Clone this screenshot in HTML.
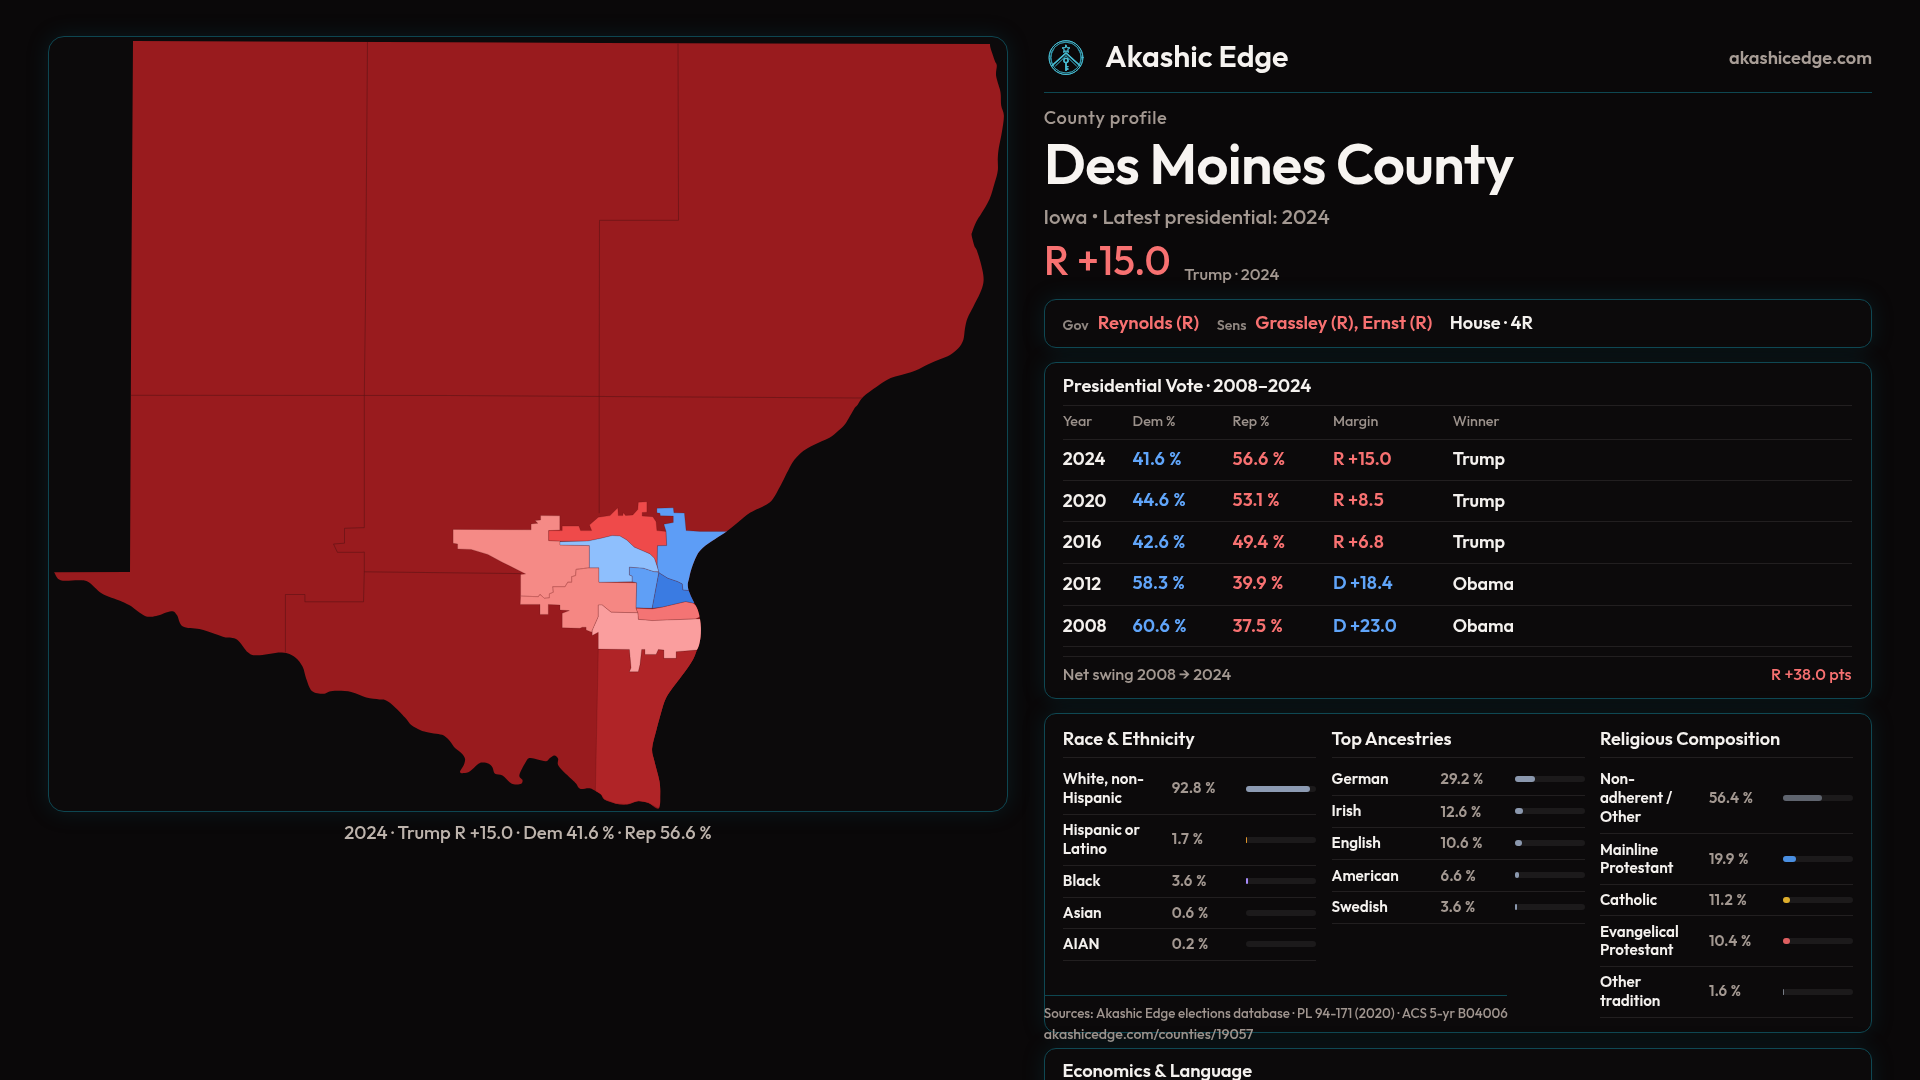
<!DOCTYPE html>
<html lang="en"><head><meta charset="utf-8"><title>Des Moines County — Akashic Edge</title>
<style>
html,body{margin:0;padding:0}
body{width:1920px;height:1080px;overflow:hidden;background:#0a0809;font-family:"Outfit","Liberation Sans",sans-serif;position:relative}
body>*{position:absolute}
section,aside,header,footer,div,svg{position:absolute}
.t{position:absolute;white-space:nowrap;line-height:1;margin:0;padding:0;text-decoration:none}
h1,h2,h3,p{margin:0;font-weight:inherit}
.r{position:absolute}
</style></head><body>
<section class="map-panel" style="left:48px;top:36px;width:960px;height:776px;box-sizing:border-box;border:1px solid #0e4651;border-radius:16px;background:#0c0a0b;box-shadow:0 0 22px rgba(14,90,105,0.22);">
<svg class="map" style="position:absolute;left:0;top:0" width="958" height="774" viewBox="49 37 958 774" role="img" aria-label="Des Moines County precinct map, 2024 presidential margin">
<defs><clipPath id="cty"><path d="M133,41 L600,43 L990,44 C990.1,44.7 989.8,45.5 990.6,48.3 C991.4,51.1 993.7,57.7 994.7,60.6 C995.7,63.5 996.6,63.1 996.8,65.6 C997.0,68.1 995.6,71.9 996.1,75.8 C996.6,79.7 999.0,85.9 999.8,89.1 C1000.6,92.3 1000.6,92.5 1000.8,95.2 C1001.0,97.9 1000.7,102.0 1001.2,105.4 C1001.7,108.8 1003.8,111.2 1003.9,115.6 C1004.0,120.0 1002.8,126.5 1001.9,131.9 C1001.0,137.3 999.5,143.7 998.8,148.1 C998.1,152.5 998.0,154.6 997.8,158.3 C997.6,162.1 998.3,166.5 997.8,170.6 C997.3,174.7 996.1,178.1 994.7,182.8 C993.3,187.6 991.8,194.0 989.6,199.1 C987.4,204.2 983.7,209.6 981.5,213.3 C979.3,217.0 977.9,218.4 976.4,221.5 C974.9,224.6 973.1,229.3 972.3,231.7 C971.5,234.1 971.4,233.3 971.7,235.7 C972.1,238.1 973.6,243.5 974.4,245.9 C975.2,248.3 975.6,247.1 976.7,250.0 C977.8,252.9 979.7,259.1 980.8,263.3 C981.9,267.5 982.9,271.7 983.3,275.0 C983.7,278.3 983.8,280.2 983.3,283.3 C982.8,286.4 981.7,289.4 980.0,293.3 C978.3,297.2 975.4,302.5 973.3,306.7 C971.2,310.9 968.9,314.7 967.5,318.3 C966.1,321.9 965.7,324.7 965.0,328.3 C964.3,331.9 964.4,336.7 963.3,340.0 C962.2,343.3 960.5,345.8 958.3,348.3 C956.1,350.8 953.0,353.2 950.0,355.0 C947.0,356.8 943.6,357.7 940.0,359.2 C936.4,360.7 932.5,362.3 928.3,364.2 C924.1,366.1 920.0,368.9 915.0,370.8 C910.0,372.7 902.8,374.4 898.3,375.8 C893.8,377.2 891.9,377.4 888.3,379.2 C884.7,381.0 880.9,383.8 876.7,386.7 C872.5,389.6 866.5,393.6 863.3,396.7 C860.1,399.8 859.0,403.0 857.5,405.0 C856.0,407.0 856.2,405.7 854.2,408.8 C852.2,411.9 848.0,420.1 845.4,423.8 C842.8,427.5 840.9,428.5 838.3,430.8 C835.6,433.1 833.6,435.5 829.5,437.8 C825.4,440.1 818.1,442.7 813.7,444.9 C809.3,447.1 806.4,448.5 803.2,451.0 C800.0,453.5 796.9,456.6 794.4,459.8 C791.9,463.0 790.3,466.6 788.2,470.4 C786.1,474.2 784.5,478.0 782.0,482.7 C779.5,487.4 775.8,494.8 773.2,498.5 C770.6,502.2 770.0,502.3 766.2,504.7 C762.4,507.1 755.1,509.7 750.4,512.6 C745.7,515.5 742.1,519.1 738.1,522.3 C734.1,525.5 730.4,528.8 726.6,531.6 C722.8,534.4 719.2,536.3 715.2,539.0 C711.2,541.7 706.0,545.0 702.9,547.8 C699.8,550.6 698.6,552.2 696.7,555.7 C694.8,559.2 692.7,564.9 691.4,568.9 C690.1,572.9 689.4,576.9 688.8,579.5 C688.2,582.1 687.8,582.5 687.8,584.4 C687.8,586.3 688.0,588.3 688.9,591.1 C689.8,593.9 691.8,598.0 693.3,601.1 C694.8,604.2 696.7,607.0 697.8,610.0 C698.9,613.0 699.5,615.9 700.0,618.9 C700.5,621.9 700.8,624.8 700.9,627.8 C701.0,630.8 700.9,633.7 700.6,636.7 C700.3,639.7 699.6,643.0 698.9,645.6 C698.1,648.2 697.0,650.0 696.1,652.2 C695.2,654.4 694.7,656.3 693.3,658.9 C691.9,661.5 689.8,664.8 687.8,667.8 C685.8,670.8 683.3,673.7 681.1,676.7 C678.9,679.7 676.9,682.0 674.4,685.6 C671.9,689.2 668.1,693.8 665.9,698.3 C663.7,702.8 662.6,707.5 661.0,712.9 C659.4,718.3 657.7,724.8 656.2,730.7 C654.7,736.7 652.4,743.5 652.1,748.6 C651.8,753.7 653.3,756.1 654.5,761.5 C655.7,766.9 658.4,775.3 659.4,781.0 C660.4,786.7 660.3,791.0 660.2,795.6 C660.1,800.2 660.6,807.3 658.6,808.5 C656.6,809.7 651.5,804.1 648.1,802.9 C644.7,801.7 641.8,800.9 638.3,801.2 C634.8,801.5 630.8,804.1 627.0,804.5 C623.2,804.9 619.5,804.5 615.7,803.7 C611.9,802.9 606.7,801.1 604.3,799.6 C601.9,798.1 602.5,796.1 601.1,794.8 C599.8,793.4 598.1,792.6 596.2,791.5 C594.3,790.4 592.4,788.8 589.7,788.3 C587.0,787.8 582.2,789.5 580.0,788.8 C577.8,788.0 577.5,785.2 576.2,783.8 C575.0,782.3 575.4,782.9 572.5,780.0 C569.6,777.1 561.1,769.8 558.8,766.2 C556.4,762.7 558.8,760.5 558.1,758.8 C557.4,757.0 555.8,755.7 554.4,755.6 C553.0,755.5 551.4,757.2 550.0,758.1 C548.6,759.0 548.3,761.0 546.2,761.2 C544.2,761.5 540.2,759.9 537.5,759.4 C534.8,758.9 531.9,757.8 530.0,758.1 C528.1,758.4 528.0,758.4 526.2,761.2 C524.5,764.1 520.0,771.9 519.4,775.0 C518.8,778.1 522.2,778.5 522.5,780.0 C522.8,781.5 522.5,783.0 521.2,783.8 C520.0,784.5 516.9,784.6 515.0,784.4 C513.1,784.2 512.1,784.0 510.0,782.5 C507.9,781.0 505.0,777.1 502.5,775.6 C500.0,774.1 496.7,775.1 495.0,773.8 C493.3,772.4 493.5,769.2 492.5,767.5 C491.5,765.8 490.4,764.6 488.8,763.8 C487.1,762.9 484.4,762.4 482.5,762.5 C480.6,762.6 479.6,762.9 477.5,764.4 C475.4,765.9 472.3,769.8 470.0,771.2 C467.7,772.7 465.4,773.0 463.8,773.1 C462.1,773.2 460.0,773.2 460.0,771.9 C460.0,770.5 462.9,767.2 463.8,765.0 C464.6,762.8 465.4,760.7 465.0,758.8 C464.6,756.8 462.9,754.9 461.2,753.1 C459.6,751.3 456.9,750.1 455.0,748.1 C453.1,746.1 451.9,743.3 450.0,741.2 C448.1,739.2 446.0,736.9 443.8,735.6 C441.5,734.4 439.2,734.4 436.2,733.8 C433.3,733.1 429.0,732.5 426.2,731.9 C423.5,731.3 422.5,731.1 420.0,730.0 C417.5,728.9 413.8,727.1 411.2,725.0 C408.8,722.9 408.1,720.8 405.0,717.5 C401.9,714.2 395.8,707.9 392.5,705.0 C389.2,702.1 387.2,700.9 385.0,700.0 C382.8,699.1 382.5,699.8 379.4,699.4 C376.3,699.0 370.9,698.8 366.2,697.5 C361.6,696.2 356.9,693.0 351.2,691.9 C345.6,690.8 337.2,690.7 332.5,691.0 C327.8,691.3 326.5,693.8 323.1,693.8 C319.7,693.8 314.7,693.5 311.9,691.0 C309.1,688.5 307.8,682.8 306.2,678.8 C304.7,674.7 304.4,670.2 302.5,666.6 C300.6,663.0 298.4,659.6 295.0,657.2 C291.6,654.9 288.1,652.8 281.9,652.5 C275.6,652.2 263.1,655.3 257.5,655.3 C251.9,655.3 251.5,655.1 248.1,652.5 C244.7,649.9 240.7,641.9 236.9,639.4 C233.2,636.9 229.3,638.4 225.6,637.5 C221.8,636.6 218.8,635.1 214.4,633.8 C210.0,632.4 204.7,630.4 199.4,629.1 C194.1,627.9 186.2,628.6 182.5,626.2 C178.8,623.9 178.8,617.5 176.9,615.0 C175.0,612.5 174.7,611.1 171.2,611.2 C167.8,611.4 160.6,615.1 156.2,615.9 C151.9,616.7 149.4,617.6 145.0,615.9 C140.6,614.2 134.1,608.1 130.0,605.6 C125.9,603.1 125.3,602.9 120.6,600.9 C115.9,598.9 107.2,596.5 101.9,593.4 C96.6,590.3 92.5,584.4 88.8,582.2 C85.0,580.0 84.1,580.6 79.4,580.3 C74.7,580.0 64.8,581.6 60.6,580.3 C56.4,579.0 55.2,573.6 54.1,572.3 L130,571.9 L131.25,300 Z"/></clipPath></defs>
<path d="M133,41 L600,43 L990,44 C990.1,44.7 989.8,45.5 990.6,48.3 C991.4,51.1 993.7,57.7 994.7,60.6 C995.7,63.5 996.6,63.1 996.8,65.6 C997.0,68.1 995.6,71.9 996.1,75.8 C996.6,79.7 999.0,85.9 999.8,89.1 C1000.6,92.3 1000.6,92.5 1000.8,95.2 C1001.0,97.9 1000.7,102.0 1001.2,105.4 C1001.7,108.8 1003.8,111.2 1003.9,115.6 C1004.0,120.0 1002.8,126.5 1001.9,131.9 C1001.0,137.3 999.5,143.7 998.8,148.1 C998.1,152.5 998.0,154.6 997.8,158.3 C997.6,162.1 998.3,166.5 997.8,170.6 C997.3,174.7 996.1,178.1 994.7,182.8 C993.3,187.6 991.8,194.0 989.6,199.1 C987.4,204.2 983.7,209.6 981.5,213.3 C979.3,217.0 977.9,218.4 976.4,221.5 C974.9,224.6 973.1,229.3 972.3,231.7 C971.5,234.1 971.4,233.3 971.7,235.7 C972.1,238.1 973.6,243.5 974.4,245.9 C975.2,248.3 975.6,247.1 976.7,250.0 C977.8,252.9 979.7,259.1 980.8,263.3 C981.9,267.5 982.9,271.7 983.3,275.0 C983.7,278.3 983.8,280.2 983.3,283.3 C982.8,286.4 981.7,289.4 980.0,293.3 C978.3,297.2 975.4,302.5 973.3,306.7 C971.2,310.9 968.9,314.7 967.5,318.3 C966.1,321.9 965.7,324.7 965.0,328.3 C964.3,331.9 964.4,336.7 963.3,340.0 C962.2,343.3 960.5,345.8 958.3,348.3 C956.1,350.8 953.0,353.2 950.0,355.0 C947.0,356.8 943.6,357.7 940.0,359.2 C936.4,360.7 932.5,362.3 928.3,364.2 C924.1,366.1 920.0,368.9 915.0,370.8 C910.0,372.7 902.8,374.4 898.3,375.8 C893.8,377.2 891.9,377.4 888.3,379.2 C884.7,381.0 880.9,383.8 876.7,386.7 C872.5,389.6 866.5,393.6 863.3,396.7 C860.1,399.8 859.0,403.0 857.5,405.0 C856.0,407.0 856.2,405.7 854.2,408.8 C852.2,411.9 848.0,420.1 845.4,423.8 C842.8,427.5 840.9,428.5 838.3,430.8 C835.6,433.1 833.6,435.5 829.5,437.8 C825.4,440.1 818.1,442.7 813.7,444.9 C809.3,447.1 806.4,448.5 803.2,451.0 C800.0,453.5 796.9,456.6 794.4,459.8 C791.9,463.0 790.3,466.6 788.2,470.4 C786.1,474.2 784.5,478.0 782.0,482.7 C779.5,487.4 775.8,494.8 773.2,498.5 C770.6,502.2 770.0,502.3 766.2,504.7 C762.4,507.1 755.1,509.7 750.4,512.6 C745.7,515.5 742.1,519.1 738.1,522.3 C734.1,525.5 730.4,528.8 726.6,531.6 C722.8,534.4 719.2,536.3 715.2,539.0 C711.2,541.7 706.0,545.0 702.9,547.8 C699.8,550.6 698.6,552.2 696.7,555.7 C694.8,559.2 692.7,564.9 691.4,568.9 C690.1,572.9 689.4,576.9 688.8,579.5 C688.2,582.1 687.8,582.5 687.8,584.4 C687.8,586.3 688.0,588.3 688.9,591.1 C689.8,593.9 691.8,598.0 693.3,601.1 C694.8,604.2 696.7,607.0 697.8,610.0 C698.9,613.0 699.5,615.9 700.0,618.9 C700.5,621.9 700.8,624.8 700.9,627.8 C701.0,630.8 700.9,633.7 700.6,636.7 C700.3,639.7 699.6,643.0 698.9,645.6 C698.1,648.2 697.0,650.0 696.1,652.2 C695.2,654.4 694.7,656.3 693.3,658.9 C691.9,661.5 689.8,664.8 687.8,667.8 C685.8,670.8 683.3,673.7 681.1,676.7 C678.9,679.7 676.9,682.0 674.4,685.6 C671.9,689.2 668.1,693.8 665.9,698.3 C663.7,702.8 662.6,707.5 661.0,712.9 C659.4,718.3 657.7,724.8 656.2,730.7 C654.7,736.7 652.4,743.5 652.1,748.6 C651.8,753.7 653.3,756.1 654.5,761.5 C655.7,766.9 658.4,775.3 659.4,781.0 C660.4,786.7 660.3,791.0 660.2,795.6 C660.1,800.2 660.6,807.3 658.6,808.5 C656.6,809.7 651.5,804.1 648.1,802.9 C644.7,801.7 641.8,800.9 638.3,801.2 C634.8,801.5 630.8,804.1 627.0,804.5 C623.2,804.9 619.5,804.5 615.7,803.7 C611.9,802.9 606.7,801.1 604.3,799.6 C601.9,798.1 602.5,796.1 601.1,794.8 C599.8,793.4 598.1,792.6 596.2,791.5 C594.3,790.4 592.4,788.8 589.7,788.3 C587.0,787.8 582.2,789.5 580.0,788.8 C577.8,788.0 577.5,785.2 576.2,783.8 C575.0,782.3 575.4,782.9 572.5,780.0 C569.6,777.1 561.1,769.8 558.8,766.2 C556.4,762.7 558.8,760.5 558.1,758.8 C557.4,757.0 555.8,755.7 554.4,755.6 C553.0,755.5 551.4,757.2 550.0,758.1 C548.6,759.0 548.3,761.0 546.2,761.2 C544.2,761.5 540.2,759.9 537.5,759.4 C534.8,758.9 531.9,757.8 530.0,758.1 C528.1,758.4 528.0,758.4 526.2,761.2 C524.5,764.1 520.0,771.9 519.4,775.0 C518.8,778.1 522.2,778.5 522.5,780.0 C522.8,781.5 522.5,783.0 521.2,783.8 C520.0,784.5 516.9,784.6 515.0,784.4 C513.1,784.2 512.1,784.0 510.0,782.5 C507.9,781.0 505.0,777.1 502.5,775.6 C500.0,774.1 496.7,775.1 495.0,773.8 C493.3,772.4 493.5,769.2 492.5,767.5 C491.5,765.8 490.4,764.6 488.8,763.8 C487.1,762.9 484.4,762.4 482.5,762.5 C480.6,762.6 479.6,762.9 477.5,764.4 C475.4,765.9 472.3,769.8 470.0,771.2 C467.7,772.7 465.4,773.0 463.8,773.1 C462.1,773.2 460.0,773.2 460.0,771.9 C460.0,770.5 462.9,767.2 463.8,765.0 C464.6,762.8 465.4,760.7 465.0,758.8 C464.6,756.8 462.9,754.9 461.2,753.1 C459.6,751.3 456.9,750.1 455.0,748.1 C453.1,746.1 451.9,743.3 450.0,741.2 C448.1,739.2 446.0,736.9 443.8,735.6 C441.5,734.4 439.2,734.4 436.2,733.8 C433.3,733.1 429.0,732.5 426.2,731.9 C423.5,731.3 422.5,731.1 420.0,730.0 C417.5,728.9 413.8,727.1 411.2,725.0 C408.8,722.9 408.1,720.8 405.0,717.5 C401.9,714.2 395.8,707.9 392.5,705.0 C389.2,702.1 387.2,700.9 385.0,700.0 C382.8,699.1 382.5,699.8 379.4,699.4 C376.3,699.0 370.9,698.8 366.2,697.5 C361.6,696.2 356.9,693.0 351.2,691.9 C345.6,690.8 337.2,690.7 332.5,691.0 C327.8,691.3 326.5,693.8 323.1,693.8 C319.7,693.8 314.7,693.5 311.9,691.0 C309.1,688.5 307.8,682.8 306.2,678.8 C304.7,674.7 304.4,670.2 302.5,666.6 C300.6,663.0 298.4,659.6 295.0,657.2 C291.6,654.9 288.1,652.8 281.9,652.5 C275.6,652.2 263.1,655.3 257.5,655.3 C251.9,655.3 251.5,655.1 248.1,652.5 C244.7,649.9 240.7,641.9 236.9,639.4 C233.2,636.9 229.3,638.4 225.6,637.5 C221.8,636.6 218.8,635.1 214.4,633.8 C210.0,632.4 204.7,630.4 199.4,629.1 C194.1,627.9 186.2,628.6 182.5,626.2 C178.8,623.9 178.8,617.5 176.9,615.0 C175.0,612.5 174.7,611.1 171.2,611.2 C167.8,611.4 160.6,615.1 156.2,615.9 C151.9,616.7 149.4,617.6 145.0,615.9 C140.6,614.2 134.1,608.1 130.0,605.6 C125.9,603.1 125.3,602.9 120.6,600.9 C115.9,598.9 107.2,596.5 101.9,593.4 C96.6,590.3 92.5,584.4 88.8,582.2 C85.0,580.0 84.1,580.6 79.4,580.3 C74.7,580.0 64.8,581.6 60.6,580.3 C56.4,579.0 55.2,573.6 54.1,572.3 L130,571.9 L131.25,300 Z" fill="#991b1e"/>
<g clip-path="url(#cty)">
<polygon points="598.3,649.1 629.4,649.4 631.1,667.8 629.4,671.7 638.3,671.7 640.0,664.4 641.7,649.4 645.0,649.4 645.0,654.4 656.1,654.4 658.3,649.4 663.9,650.0 663.9,658.3 676.1,658.3 676.1,651.7 696.7,650.0 696.8,658.9 691.3,667.8 684.6,676.7 677.9,685.6 669.4,698.3 664.5,712.9 659.7,730.7 655.6,748.6 658.0,761.5 662.9,781.0 663.7,795.6 658.6,808.5 648.1,802.9 638.3,801.2 627.0,804.5 615.7,803.7 604.3,799.6 601.1,794.8 596.2,791.5 595.4,789.9" fill="#b02427" stroke="rgba(60,10,12,0.35)" stroke-width="0.5"/>
<polygon points="453.1,529.4 531.1,529.8 531.1,523.9 537.8,523.3 535.0,520.6 540.6,520.0 540.6,515.6 559.8,515.8 559.8,530.0 548.7,530.6 548.7,540.6 560.0,541.1 560.0,545.0 589.4,545.6 589.4,567.8 576.1,569.4 575.6,575.6 571.7,576.7 571.7,582.2 567.8,582.2 565.0,586.7 552.8,586.7 553.3,592.2 549.4,593.9 549.4,597.8 544.4,598.3 540.0,594.4 538.3,596.7 520.6,596.1 520.6,574.4 525.6,573.9 502.2,562.2 487.8,554.4 471.1,549.4 457.6,548.9 457.6,543.9 453.1,543.3" fill="#f58a86" stroke="rgba(60,10,12,0.35)" stroke-width="0.5"/>
<polygon points="589.4,567.8 598.9,567.8 598.9,582.2 636.7,582.8 636.1,608.3 637.8,612.8 611.1,612.2 602.2,605.0 598.3,605.0 598.3,616.7 592.2,630.6 591.7,632.2 586.1,630.0 586.1,627.2 582.2,627.2 580.0,628.3 562.2,627.8 562.2,613.3 569.4,610.6 560.0,610.0 560.0,605.0 548.3,604.4 548.3,614.4 540.0,614.4 540.0,604.4 520.2,604.4 520.6,596.1 538.3,596.7 540.0,594.4 544.4,598.3 549.4,597.8 549.4,593.9 553.3,592.2 552.8,586.7 565.0,586.7 567.8,582.2 571.7,582.2 571.7,576.7 575.6,575.6 576.1,569.4" fill="#f58783" stroke="rgba(60,10,12,0.35)" stroke-width="0.5"/>
<polygon points="548.7,530.6 562.2,530.6 562.2,526.1 578.9,526.1 580.6,530.6 591.7,530.6 589.4,525.0 598.3,517.2 610.0,515.6 617.8,507.8 618.3,515.6 622.8,515.6 623.3,512.8 625.6,515.6 632.8,515.0 637.8,509.4 638.3,502.2 646.9,501.7 646.9,512.2 642.2,512.5 642.2,516.1 652.8,516.7 656.1,521.7 656.9,530.6 666.1,531.4 666.7,545.6 657.5,545.8 657.2,565.0 656.7,565.0 654.4,558.3 650.0,553.9 643.3,551.1 634.4,547.2 626.7,540.0 620.0,536.1 612.2,535.6 601.1,538.3 590.0,540.6 587.8,541.1 560.0,541.1 548.7,540.6" fill="#ef4a4a" stroke="rgba(60,10,12,0.35)" stroke-width="0.5"/>
<polygon points="560.0,541.7 587.8,541.1 601.1,538.3 612.2,535.6 620.0,536.1 626.7,540.0 634.4,547.2 643.3,551.1 650.0,553.9 654.4,558.3 656.7,565.0 658.9,571.7 653.9,571.7 643.3,568.3 629.4,567.2 629.4,575.0 632.2,576.1 632.2,581.7 598.9,582.2 598.9,567.8 589.4,567.8 589.4,545.6 560.0,545.0" fill="#8ebffd" stroke="rgba(60,10,12,0.35)" stroke-width="0.5"/>
<polygon points="656.9,508.3 673.3,507.8 673.9,512.8 684.4,513.1 686.1,530.6 700.0,531.4 730.1,531.6 718.7,539.0 706.4,547.8 700.2,555.7 694.9,568.9 692.3,579.5 691.3,584.4 688.9,590.6 682.8,590.0 682.2,583.9 677.8,581.7 667.8,578.3 658.9,572.8 657.2,565.0 657.5,545.8 666.7,545.6 666.1,531.4 663.9,524.2 673.3,522.5 673.3,516.1 660.3,515.8 660.0,513.3 656.9,512.8" fill="#5d9df6" stroke="rgba(60,10,12,0.35)" stroke-width="0.5"/>
<polygon points="629.4,567.2 643.3,568.3 653.9,571.7 658.9,572.2 652.2,608.3 636.1,607.8 636.7,582.8 632.2,581.7 632.2,576.1 629.4,575.0" fill="#5f9ff6" stroke="rgba(60,10,12,0.35)" stroke-width="0.5"/>
<polygon points="658.9,572.8 667.8,578.3 677.8,581.7 682.2,583.9 682.8,590.0 688.9,590.6 696.8,601.1 693.3,603.3 685.6,601.7 662.2,607.2 652.2,608.3" fill="#3a7be2" stroke="rgba(60,10,12,0.35)" stroke-width="0.5"/>
<polygon points="636.1,608.3 652.2,608.9 662.2,607.2 685.6,601.7 693.3,603.3 701.3,610.0 699.6,617.0 695.6,618.9 652.2,620.6 638.3,619.4 637.8,612.8" fill="#f47474" stroke="rgba(60,10,12,0.35)" stroke-width="0.5"/>
<polygon points="598.3,605.0 602.2,605.0 611.1,612.2 637.8,612.8 638.3,619.4 652.2,620.6 695.6,618.9 703.5,618.9 704.4,627.8 704.1,636.7 702.4,645.6 696.7,650.0 676.1,651.7 676.1,658.3 663.9,658.3 663.9,650.0 658.3,649.4 656.1,654.4 645.0,654.4 645.0,649.4 641.7,649.4 640.0,664.4 638.3,671.7 629.4,671.7 631.1,667.8 629.4,649.4 598.3,649.1 598.3,632.2 592.2,635.6 592.2,630.6 598.3,616.7" fill="#fa9e9e" stroke="rgba(60,10,12,0.35)" stroke-width="0.5"/>
<polyline points="520.6,596.1 538.3,596.7 540.0,594.4 544.4,598.3 549.4,597.8 549.4,593.9 553.3,592.2 552.8,586.7 565.0,586.7 567.8,582.2 571.7,582.2 571.7,576.7 575.6,575.6 576.1,569.4 589.4,567.8" fill="none" stroke="#d86f6c" stroke-width="0.6"/>
<polyline points="367.5,41.0 365.5,300.0 364.3,395.3" fill="none" stroke="#5c1214" stroke-width="0.6"/>
<polyline points="130.4,395.3 450.0,395.5 620.0,396.6 863.0,398.0" fill="none" stroke="#5c1214" stroke-width="0.6"/>
<polyline points="678.0,43.5 678.5,220.3 599.5,220.3 599.2,395.5 599.2,513.2" fill="none" stroke="#5c1214" stroke-width="0.6"/>
<polyline points="364.3,395.3 364.3,527.6 344.5,528.3 344.5,543.2 333.5,544.0 337.4,552.3 362.2,552.3 364.3,552.0 364.3,571.8 363.5,601.8 304.9,601.8 304.9,594.5 285.4,594.5 285.4,652.5" fill="none" stroke="#5c1214" stroke-width="0.6"/>
<polyline points="364.3,571.8 521.0,573.6" fill="none" stroke="#5c1214" stroke-width="0.6"/>
</g>
</svg>
</section>
<div class="map-caption" style="left:48px;top:812px;width:960px;height:40px;will-change:transform">
<p class="t" style="left:80.00px;width:800px;text-align:center;top:11.40px;font-size:18.5px;font-weight:500;color:#bdb3ac;">2024 · Trump R +15.0 · Dem 41.6 % · Rep 56.6 %</p>
</div>
<aside class="profile" style="left:1044px;top:0px;width:828px;height:1080px;will-change:transform">
<header class="brand" style="left:0px;top:36px;width:828px;height:57px;">
<svg class="logo" style="position:absolute;left:0;top:0" width="44" height="44" viewBox="0 0 44 44" aria-hidden="true">
<defs><filter id="gl" x="-30%" y="-30%" width="160%" height="160%"><feGaussianBlur stdDeviation="0.6" result="b"/><feMerge><feMergeNode in="b"/><feMergeNode in="SourceGraphic"/></feMerge></filter></defs>
<g fill="none" stroke="#47bcd2" filter="url(#gl)" stroke-linecap="round" stroke-linejoin="round">
<circle cx="22" cy="21.6" r="16.9" stroke-width="0.9"/>
<circle cx="22" cy="21.6" r="15.4" stroke-width="0.7" stroke="#3aa9c0"/>
<path d="M9.6 13.5 A13.5 13.5 0 0 0 9.6 29.7 M34.4 13.5 A13.5 13.5 0 0 1 34.4 29.7" stroke-width="0.6" stroke="#2f8fa3"/>
<path d="M22 17 L8.2 29.6 M22 17 L35.8 29.6" stroke-width="1.3"/>
<path d="M22 19.8 L11.6 29.8 M22 19.8 L32.4 29.8" stroke-width="0.7" stroke="#3aa9c0"/>
<path d="M22 9.2 L23.05 11.7 L25.8 11.9 L23.7 13.7 L24.4 16.3 L22 14.9 L19.6 16.3 L20.3 13.7 L18.2 11.9 L20.95 11.7 Z" stroke-width="0.9"/>
<circle cx="22" cy="24.5" r="2.1" stroke-width="1.3"/>
<path d="M22 26.6 L22 34.4 M22 30.6 L23.9 30.6 M22 33 L23.9 33" stroke-width="1.4"/>
</g></svg>
<div class="t brand-name" style="left:61.00px;top:4.74px;font-size:30.3px;font-weight:600;color:#f6f3f0;">Akashic Edge</div>
<a class="t site" style="right:0.00px;top:13.27px;font-size:18.2px;font-weight:600;color:#a89d96;">akashicedge.com</a>
<div class="r rule" style="left:0.00px;top:56.00px;width:828px;height:1px;background:#0e4751"></div>
</header>
<div class="t eyebrow" style="left:-0.20px;top:108.57px;font-size:18.2px;font-weight:500;color:#a39891;letter-spacing:0.62px">County profile</div>
<h1 class="t title" style="left:0.00px;top:136.48px;font-size:56px;font-weight:600;color:#f7f4f1;letter-spacing:-0.62px">Des Moines County</h1>
<p class="t subtitle" style="left:-0.50px;top:206.31px;font-size:20.5px;font-weight:500;color:#a39891;">Iowa • Latest presidential: 2024</p>
<div class="t margin-big" style="left:0.00px;top:240.00px;font-size:40px;font-weight:500;color:#f87171;">R +15.0</div>
<div class="t margin-note" style="left:140.30px;top:265.64px;font-size:16.5px;font-weight:500;color:#a39891;">Trump · 2024</div>
<div class="box officials" style="left:0px;top:299px;width:828px;height:49px;box-sizing:border-box;border:1px solid #0f4853;border-radius:12px;background:#0c0a0b;box-shadow:0 0 22px rgba(14,90,105,0.22);">
<span class="t" style="left:17.50px;top:17.72px;font-size:14px;font-weight:600;color:#8f8680;">Gov</span>
<span class="t" style="left:52.80px;top:13.59px;font-size:18.4px;font-weight:600;color:#f87171;">Reynolds (R)</span>
<span class="t" style="left:171.80px;top:17.72px;font-size:14px;font-weight:600;color:#8f8680;">Sens</span>
<span class="t" style="left:210.30px;top:13.77px;font-size:18.2px;font-weight:600;color:#f87171;">Grassley (R), Ernst (R)</span>
<span class="t" style="left:404.80px;top:13.85px;font-size:18.1px;font-weight:600;color:#f4f1ee;">House · 4R</span>
</div>
<section class="box pres" style="left:0px;top:362px;width:828px;height:337px;box-sizing:border-box;border:1px solid #0f4853;border-radius:12px;background:#0c0a0b;box-shadow:0 0 22px rgba(14,90,105,0.22);">
<h2 class="t" style="left:17.80px;top:14.48px;font-size:18.3px;font-weight:600;color:#f4f1ee;">Presidential Vote · 2008–2024</h2>
<div class="r" style="left:18.00px;top:42.00px;width:789px;height:1px;background:#221f20"></div>
<div class="t th" style="left:17.80px;top:50.66px;font-size:14.3px;font-weight:500;color:#9b918b;">Year</div>
<div class="t th" style="left:87.60px;top:50.66px;font-size:14.3px;font-weight:500;color:#9b918b;">Dem %</div>
<div class="t th" style="left:187.60px;top:50.66px;font-size:14.3px;font-weight:500;color:#9b918b;">Rep %</div>
<div class="t th" style="left:287.90px;top:50.66px;font-size:14.3px;font-weight:500;color:#9b918b;">Margin</div>
<div class="t th" style="left:407.70px;top:50.66px;font-size:14.3px;font-weight:500;color:#9b918b;">Winner</div>
<div class="r" style="left:18.00px;top:76.00px;width:789px;height:1px;background:#221f20"></div>
<div class="t td" style="left:17.80px;top:86.94px;font-size:18.0px;font-weight:600;color:#f4f1ee;">2024</div>
<div class="t td" style="left:87.60px;top:86.77px;font-size:18.2px;font-weight:600;color:#60a5fa;word-spacing:0.8px">41.6 %</div>
<div class="t td" style="left:187.60px;top:86.77px;font-size:18.2px;font-weight:600;color:#f87171;word-spacing:0.8px">56.6 %</div>
<div class="t td" style="left:287.90px;top:86.77px;font-size:18.2px;font-weight:600;color:#f87171;">R +15.0</div>
<div class="t td" style="left:407.70px;top:87.03px;font-size:17.9px;font-weight:600;color:#f4f1ee;">Trump</div>
<div class="t td" style="left:17.80px;top:128.54px;font-size:18.0px;font-weight:600;color:#f4f1ee;">2020</div>
<div class="t td" style="left:87.60px;top:128.37px;font-size:18.2px;font-weight:600;color:#60a5fa;word-spacing:0.8px">44.6 %</div>
<div class="t td" style="left:187.60px;top:128.37px;font-size:18.2px;font-weight:600;color:#f87171;word-spacing:0.8px">53.1 %</div>
<div class="t td" style="left:287.90px;top:128.37px;font-size:18.2px;font-weight:600;color:#f87171;">R +8.5</div>
<div class="t td" style="left:407.70px;top:128.63px;font-size:17.9px;font-weight:600;color:#f4f1ee;">Trump</div>
<div class="t td" style="left:17.80px;top:169.74px;font-size:18.0px;font-weight:600;color:#f4f1ee;">2016</div>
<div class="t td" style="left:87.60px;top:169.57px;font-size:18.2px;font-weight:600;color:#60a5fa;word-spacing:0.8px">42.6 %</div>
<div class="t td" style="left:187.60px;top:169.57px;font-size:18.2px;font-weight:600;color:#f87171;word-spacing:0.8px">49.4 %</div>
<div class="t td" style="left:287.90px;top:169.57px;font-size:18.2px;font-weight:600;color:#f87171;">R +6.8</div>
<div class="t td" style="left:407.70px;top:169.83px;font-size:17.9px;font-weight:600;color:#f4f1ee;">Trump</div>
<div class="t td" style="left:17.80px;top:211.64px;font-size:18.0px;font-weight:600;color:#f4f1ee;">2012</div>
<div class="t td" style="left:87.60px;top:211.47px;font-size:18.2px;font-weight:600;color:#60a5fa;word-spacing:0.8px">58.3 %</div>
<div class="t td" style="left:187.60px;top:211.47px;font-size:18.2px;font-weight:600;color:#f87171;word-spacing:0.8px">39.9 %</div>
<div class="t td" style="left:287.90px;top:211.47px;font-size:18.2px;font-weight:600;color:#60a5fa;">D +18.4</div>
<div class="t td" style="left:407.70px;top:211.73px;font-size:17.9px;font-weight:600;color:#f4f1ee;">Obama</div>
<div class="t td" style="left:17.80px;top:253.84px;font-size:18.0px;font-weight:600;color:#f4f1ee;">2008</div>
<div class="t td" style="left:87.60px;top:253.67px;font-size:18.2px;font-weight:600;color:#60a5fa;word-spacing:0.8px">60.6 %</div>
<div class="t td" style="left:187.60px;top:253.67px;font-size:18.2px;font-weight:600;color:#f87171;word-spacing:0.8px">37.5 %</div>
<div class="t td" style="left:287.90px;top:253.67px;font-size:18.2px;font-weight:600;color:#60a5fa;">D +23.0</div>
<div class="t td" style="left:407.70px;top:253.93px;font-size:17.9px;font-weight:600;color:#f4f1ee;">Obama</div>
<div class="r" style="left:18.00px;top:117.00px;width:789px;height:1px;background:#221f20"></div>
<div class="r" style="left:18.00px;top:158.00px;width:789px;height:1px;background:#221f20"></div>
<div class="r" style="left:18.00px;top:200.00px;width:789px;height:1px;background:#221f20"></div>
<div class="r" style="left:18.00px;top:242.00px;width:789px;height:1px;background:#221f20"></div>
<div class="r" style="left:18.00px;top:283.00px;width:789px;height:1px;background:#221f20"></div>
<div class="r" style="left:18.00px;top:293.00px;width:789px;height:1px;background:#221f20"></div>
<div class="t" style="left:17.80px;top:303.32px;font-size:16.3px;font-weight:500;color:#a39891;">Net swing 2008 → 2024</div>
<div class="t" style="right:19.50px;top:303.32px;font-size:16.3px;font-weight:500;color:#f87171;">R +38.0 pts</div>
</section>
<section class="box demo" style="left:0px;top:713px;width:828px;height:320px;box-sizing:border-box;border:1px solid #0f4853;border-radius:12px;background:#0c0a0b;box-shadow:0 0 22px rgba(14,90,105,0.22);">
<h3 class="t" style="left:17.80px;top:15.71px;font-size:18.15px;font-weight:600;color:#f4f1ee;">Race &amp; Ethnicity</h3>
<div class="r" style="left:18.00px;top:43.00px;width:253px;height:1px;background:#221f20"></div>
<h3 class="t" style="left:286.60px;top:15.71px;font-size:18.15px;font-weight:600;color:#f4f1ee;">Top Ancestries</h3>
<div class="r" style="left:287.00px;top:43.00px;width:253px;height:1px;background:#221f20"></div>
<h3 class="t" style="left:554.90px;top:15.71px;font-size:18.15px;font-weight:600;color:#f4f1ee;">Religious Composition</h3>
<div class="r" style="left:555.00px;top:43.00px;width:253px;height:1px;background:#221f20"></div>
<div class="t" style="left:17.80px;top:56.58px;font-size:15.2px;font-weight:600;color:#f4f1ee;">White, non-</div>
<div class="t" style="left:17.80px;top:75.78px;font-size:15.2px;font-weight:600;color:#f4f1ee;">Hispanic</div>
<div class="t" style="left:126.80px;top:66.06px;font-size:15.1px;font-weight:600;color:#a39891;word-spacing:0.8px">92.8 %</div>
<div class="r track" style="left:200.50px;top:72.00px;width:70px;height:6px;background:#1c1a1b;border-radius:3px"></div>
<div class="r fill" style="left:200.50px;top:72.00px;width:64.96px;height:6px;background:#8d9bb3;border-radius:3px"></div>
<div class="r" style="left:18.00px;top:100.00px;width:253px;height:1px;background:#221f20"></div>
<div class="t" style="left:17.80px;top:108.08px;font-size:15.2px;font-weight:600;color:#f4f1ee;">Hispanic or</div>
<div class="t" style="left:17.80px;top:126.88px;font-size:15.2px;font-weight:600;color:#f4f1ee;">Latino</div>
<div class="t" style="left:126.80px;top:117.36px;font-size:15.1px;font-weight:600;color:#a39891;word-spacing:0.8px">1.7 %</div>
<div class="r track" style="left:200.50px;top:123.00px;width:70px;height:6px;background:#1c1a1b;border-radius:3px"></div>
<div class="r fill" style="left:200.50px;top:123.00px;width:1.19px;height:6px;background:#e0952a;border-radius:3px"></div>
<div class="r" style="left:18.00px;top:151.00px;width:253px;height:1px;background:#221f20"></div>
<div class="t" style="left:17.80px;top:159.38px;font-size:15.2px;font-weight:600;color:#f4f1ee;">Black</div>
<div class="t" style="left:126.80px;top:159.46px;font-size:15.1px;font-weight:600;color:#a39891;word-spacing:0.8px">3.6 %</div>
<div class="r track" style="left:200.50px;top:164.00px;width:70px;height:6px;background:#1c1a1b;border-radius:3px"></div>
<div class="r fill" style="left:200.50px;top:164.00px;width:2.52px;height:6px;background:#a78bfa;border-radius:3px"></div>
<div class="r" style="left:18.00px;top:183.00px;width:253px;height:1px;background:#221f20"></div>
<div class="t" style="left:17.80px;top:191.18px;font-size:15.2px;font-weight:600;color:#f4f1ee;">Asian</div>
<div class="t" style="left:126.80px;top:191.26px;font-size:15.1px;font-weight:600;color:#a39891;word-spacing:0.8px">0.6 %</div>
<div class="r track" style="left:200.50px;top:196.00px;width:70px;height:6px;background:#1c1a1b;border-radius:3px"></div>
<div class="r" style="left:18.00px;top:214.00px;width:253px;height:1px;background:#221f20"></div>
<div class="t" style="left:17.80px;top:221.98px;font-size:15.2px;font-weight:600;color:#f4f1ee;">AIAN</div>
<div class="t" style="left:126.80px;top:222.06px;font-size:15.1px;font-weight:600;color:#a39891;word-spacing:0.8px">0.2 %</div>
<div class="r track" style="left:200.50px;top:227.00px;width:70px;height:6px;background:#1c1a1b;border-radius:3px"></div>
<div class="r" style="left:18.00px;top:246.00px;width:253px;height:1px;background:#221f20"></div>
<div class="t" style="left:286.60px;top:56.98px;font-size:15.2px;font-weight:600;color:#f4f1ee;">German</div>
<div class="t" style="left:395.60px;top:57.06px;font-size:15.1px;font-weight:600;color:#a39891;word-spacing:0.8px">29.2 %</div>
<div class="r track" style="left:469.50px;top:62.00px;width:70px;height:6px;background:#1c1a1b;border-radius:3px"></div>
<div class="r fill" style="left:469.50px;top:62.00px;width:20.44px;height:6px;background:#8b98ae;border-radius:3px"></div>
<div class="r" style="left:287.00px;top:81.00px;width:253px;height:1px;background:#221f20"></div>
<div class="t" style="left:286.60px;top:89.48px;font-size:15.2px;font-weight:600;color:#f4f1ee;">Irish</div>
<div class="t" style="left:395.60px;top:89.56px;font-size:15.1px;font-weight:600;color:#a39891;word-spacing:0.8px">12.6 %</div>
<div class="r track" style="left:469.50px;top:94.00px;width:70px;height:6px;background:#1c1a1b;border-radius:3px"></div>
<div class="r fill" style="left:469.50px;top:94.00px;width:8.82px;height:6px;background:#8b98ae;border-radius:3px"></div>
<div class="r" style="left:287.00px;top:113.00px;width:253px;height:1px;background:#221f20"></div>
<div class="t" style="left:286.60px;top:121.18px;font-size:15.2px;font-weight:600;color:#f4f1ee;">English</div>
<div class="t" style="left:395.60px;top:121.26px;font-size:15.1px;font-weight:600;color:#a39891;word-spacing:0.8px">10.6 %</div>
<div class="r track" style="left:469.50px;top:126.00px;width:70px;height:6px;background:#1c1a1b;border-radius:3px"></div>
<div class="r fill" style="left:469.50px;top:126.00px;width:7.42px;height:6px;background:#8b98ae;border-radius:3px"></div>
<div class="r" style="left:287.00px;top:145.00px;width:253px;height:1px;background:#221f20"></div>
<div class="t" style="left:286.60px;top:153.58px;font-size:15.2px;font-weight:600;color:#f4f1ee;">American</div>
<div class="t" style="left:395.60px;top:153.66px;font-size:15.1px;font-weight:600;color:#a39891;word-spacing:0.8px">6.6 %</div>
<div class="r track" style="left:469.50px;top:158.00px;width:70px;height:6px;background:#1c1a1b;border-radius:3px"></div>
<div class="r fill" style="left:469.50px;top:158.00px;width:4.62px;height:6px;background:#8b98ae;border-radius:3px"></div>
<div class="r" style="left:287.00px;top:177.00px;width:253px;height:1px;background:#221f20"></div>
<div class="t" style="left:286.60px;top:185.28px;font-size:15.2px;font-weight:600;color:#f4f1ee;">Swedish</div>
<div class="t" style="left:395.60px;top:185.36px;font-size:15.1px;font-weight:600;color:#a39891;word-spacing:0.8px">3.6 %</div>
<div class="r track" style="left:469.50px;top:190.00px;width:70px;height:6px;background:#1c1a1b;border-radius:3px"></div>
<div class="r fill" style="left:469.50px;top:190.00px;width:2.52px;height:6px;background:#8b98ae;border-radius:3px"></div>
<div class="r" style="left:287.00px;top:209.00px;width:253px;height:1px;background:#221f20"></div>
<div class="t" style="left:554.90px;top:57.48px;font-size:15.2px;font-weight:600;color:#f4f1ee;">Non-</div>
<div class="t" style="left:554.90px;top:76.18px;font-size:15.2px;font-weight:600;color:#f4f1ee;">adherent /</div>
<div class="t" style="left:554.90px;top:94.88px;font-size:15.2px;font-weight:600;color:#f4f1ee;">Other</div>
<div class="t" style="left:663.90px;top:76.26px;font-size:15.1px;font-weight:600;color:#a39891;word-spacing:0.8px">56.4 %</div>
<div class="r track" style="left:737.50px;top:81.00px;width:70px;height:6px;background:#1c1a1b;border-radius:3px"></div>
<div class="r fill" style="left:737.50px;top:81.00px;width:39.48px;height:6px;background:#5f646e;border-radius:3px"></div>
<div class="r" style="left:555.00px;top:119.00px;width:253px;height:1px;background:#221f20"></div>
<div class="t" style="left:554.90px;top:127.88px;font-size:15.2px;font-weight:600;color:#f4f1ee;">Mainline</div>
<div class="t" style="left:554.90px;top:145.98px;font-size:15.2px;font-weight:600;color:#f4f1ee;">Protestant</div>
<div class="t" style="left:663.90px;top:136.56px;font-size:15.1px;font-weight:600;color:#a39891;word-spacing:0.8px">19.9 %</div>
<div class="r track" style="left:737.50px;top:142.00px;width:70px;height:6px;background:#1c1a1b;border-radius:3px"></div>
<div class="r fill" style="left:737.50px;top:142.00px;width:13.93px;height:6px;background:#4a8fe2;border-radius:3px"></div>
<div class="r" style="left:555.00px;top:170.00px;width:253px;height:1px;background:#221f20"></div>
<div class="t" style="left:554.90px;top:178.08px;font-size:15.2px;font-weight:600;color:#f4f1ee;">Catholic</div>
<div class="t" style="left:663.90px;top:178.16px;font-size:15.1px;font-weight:600;color:#a39891;word-spacing:0.8px">11.2 %</div>
<div class="r track" style="left:737.50px;top:183.00px;width:70px;height:6px;background:#1c1a1b;border-radius:3px"></div>
<div class="r fill" style="left:737.50px;top:183.00px;width:7.84px;height:6px;background:#deae2c;border-radius:3px"></div>
<div class="r" style="left:555.00px;top:201.00px;width:253px;height:1px;background:#221f20"></div>
<div class="t" style="left:554.90px;top:209.68px;font-size:15.2px;font-weight:600;color:#f4f1ee;">Evangelical</div>
<div class="t" style="left:554.90px;top:227.78px;font-size:15.2px;font-weight:600;color:#f4f1ee;">Protestant</div>
<div class="t" style="left:663.90px;top:218.66px;font-size:15.1px;font-weight:600;color:#a39891;word-spacing:0.8px">10.4 %</div>
<div class="r track" style="left:737.50px;top:224.00px;width:70px;height:6px;background:#1c1a1b;border-radius:3px"></div>
<div class="r fill" style="left:737.50px;top:224.00px;width:7.28px;height:6px;background:#df5f60;border-radius:3px"></div>
<div class="r" style="left:555.00px;top:252.00px;width:253px;height:1px;background:#221f20"></div>
<div class="t" style="left:554.90px;top:260.18px;font-size:15.2px;font-weight:600;color:#f4f1ee;">Other</div>
<div class="t" style="left:554.90px;top:278.88px;font-size:15.2px;font-weight:600;color:#f4f1ee;">tradition</div>
<div class="t" style="left:663.90px;top:269.46px;font-size:15.1px;font-weight:600;color:#a39891;word-spacing:0.8px">1.6 %</div>
<div class="r track" style="left:737.50px;top:275.00px;width:70px;height:6px;background:#1c1a1b;border-radius:3px"></div>
<div class="r fill" style="left:737.50px;top:275.00px;width:1.12px;height:6px;background:#777c86;border-radius:3px"></div>
<div class="r" style="left:555.00px;top:303.00px;width:253px;height:1px;background:#221f20"></div>
</section>
<footer class="sources" style="left:0px;top:995px;width:463px;height:50px;box-sizing:border-box;border-top:1px solid #0e4751;">
<p class="t" style="left:-0.20px;top:11.17px;font-size:13.37px;font-weight:500;color:#a0958f;">Sources: Akashic Edge elections database · PL 94-171 (2020) · ACS 5-yr B04006</p>
<p class="t" style="left:-0.20px;top:31.25px;font-size:14.2px;font-weight:500;color:#a0958f;">akashicedge.com/counties/19057</p>
</footer>
<section class="box econ" style="left:0px;top:1048px;width:828px;height:80px;box-sizing:border-box;border:1px solid #0f4853;border-radius:12px;background:#0c0a0b;box-shadow:0 0 22px rgba(14,90,105,0.22);">
<h3 class="t" style="left:17.50px;top:12.78px;font-size:18.3px;font-weight:600;color:#f4f1ee;">Economics &amp; Language</h3>
</section>
</aside>
</body></html>
